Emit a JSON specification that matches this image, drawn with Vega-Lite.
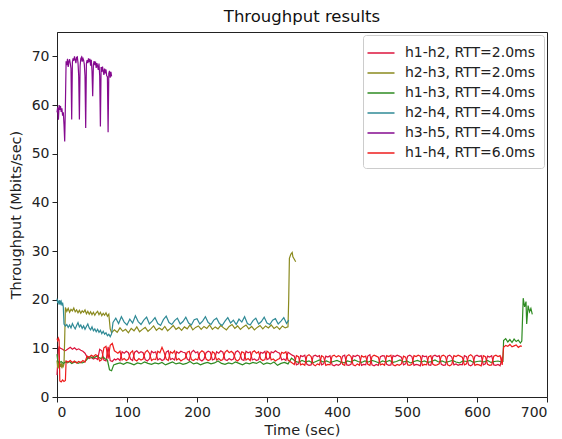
{
"$schema": "https://vega.github.io/schema/vega-lite/v6.json",
"width": 490, "height": 365,
"autosize": {"type": "none"},
"padding": {"left": 57, "top": 32, "right": 15, "bottom": 42},
"background": "white",
"title": {"text": "Throughput results", "fontSize": 16.5, "fontWeight": "normal", "font": "DejaVu Sans", "color": "#111", "offset": 7},
"config": {
  "font": "DejaVu Sans",
  "view": {"stroke": "#222", "strokeWidth": 1},
  "axis": {"labelFont": "DejaVu Sans", "titleFont": "DejaVu Sans", "labelFontSize": 14, "titleFontSize": 14.5, "titleFontWeight": "normal", "labelColor": "#222", "titleColor": "#222", "tickColor": "#222", "domainColor": "#222", "grid": false, "tickSize": 5, "labelPadding": 3},
  "legend": {"labelFont": "DejaVu Sans", "labelFontSize": 14, "labelColor": "#222", "strokeColor": "#cccccc", "fillColor": "rgba(255,255,255,0.8)", "cornerRadius": 3, "padding": 8, "offset": 3, "rowPadding": 3, "symbolSize": 324, "symbolType": "M-1.5,0H1.5", "symbolStrokeWidth": 1.5, "labelOffset": 14, "orient": "top-right"}
},
"datasets": {
"h12": [{"t":0,"v":4.5},{"t":1,"v":7},{"t":2,"v":9.8},{"t":3,"v":10.3},{"t":5,"v":10.0},{"t":8,"v":9.8},{"t":11,"v":9.5},{"t":13,"v":9.6},{"t":16,"v":9.9},{"t":19,"v":10.2},{"t":22,"v":9.8},{"t":25,"v":10.1},{"t":28,"v":9.7},{"t":31,"v":9.9},{"t":34,"v":9.6},{"t":37,"v":9.4},{"t":40,"v":9.0},{"t":43,"v":8.2},{"t":46,"v":7.9},{"t":49,"v":8.1},{"t":52,"v":7.8},{"t":55,"v":8.0},{"t":58,"v":7.7},{"t":61,"v":9.8},{"t":64,"v":9.5},{"t":67,"v":7.6},{"t":70,"v":7.4},{"t":73,"v":10.3},{"t":76,"v":7.5},{"t":79,"v":7.3},{"t":82,"v":7.8},
{"t":84,"v":7.6},{"t":87,"v":7.9},{"t":90,"v":7.5},{"t":93,"v":9.3},{"t":96,"v":9.0},{"t":99,"v":9.4},{"t":102,"v":9.1},{"t":105,"v":7.8},{"t":108,"v":7.5},{"t":111,"v":9.2},{"t":114,"v":9.5},{"t":117,"v":9.0},{"t":120,"v":9.3},{"t":123,"v":9.1},{"t":126,"v":7.7},{"t":129,"v":7.4},{"t":132,"v":7.8},{"t":135,"v":9.4},{"t":138,"v":9.1},{"t":141,"v":9.3},{"t":144,"v":7.6},{"t":147,"v":7.9},{"t":150,"v":7.5},{"t":153,"v":7.7},{"t":156,"v":9.2},{"t":159,"v":9.5},{"t":162,"v":7.7},{"t":165,"v":7.9},{"t":168,"v":7.6},{"t":171,"v":9.3},{"t":174,"v":9.0},{"t":177,"v":9.4},{"t":180,"v":9.2},{"t":183,"v":9.1},{"t":186,"v":7.8},{"t":189,"v":7.5},{"t":192,"v":9.2},{"t":195,"v":9.6},{"t":198,"v":9.1},{"t":201,"v":9.3},{"t":204,"v":7.7},{"t":207,"v":7.4},{"t":210,"v":7.8},{"t":213,"v":9.1},{"t":216,"v":9.4},{"t":219,"v":9.2},{"t":222,"v":7.6},{"t":225,"v":7.8},{"t":228,"v":9.3},{"t":231,"v":9.0},{"t":234,"v":9.5},{"t":237,"v":9.2},{"t":240,"v":7.7},{"t":243,"v":7.5},{"t":246,"v":7.9},{"t":249,"v":7.6},{"t":252,"v":7.8},{"t":255,"v":9.2},{"t":258,"v":9.5},{"t":261,"v":9.1},{"t":264,"v":7.7},{"t":267,"v":7.5},{"t":270,"v":9.4},{"t":273,"v":9.1},{"t":276,"v":9.3},{"t":279,"v":7.6},{"t":282,"v":7.8},{"t":285,"v":7.5},{"t":288,"v":7.7},{"t":291,"v":9.2},{"t":294,"v":9.0},{"t":297,"v":9.4},{"t":300,"v":7.7},{"t":303,"v":7.9},{"t":306,"v":9.3},{"t":309,"v":9.1},{"t":312,"v":9.5},{"t":315,"v":9.2},{"t":318,"v":9.0},{"t":321,"v":7.6},{"t":324,"v":7.8},{"t":327,"v":7.5},{"t":330,"v":9.2},{"t":333,"v":8.9},{"t":336,"v":8.6},{"t":339,"v":8.4},{"t":342,"v":6.6},{"t":345,"v":6.8},{"t":348,"v":8.5},{"t":351,"v":8.3},{"t":354,"v":8.6},{"t":357,"v":6.7},{"t":360,"v":6.5},{"t":363,"v":6.6},{"t":366,"v":8.4},{"t":369,"v":8.6},{"t":372,"v":8.3},{"t":375,"v":8.5},{"t":378,"v":6.6},{"t":381,"v":6.8},{"t":384,"v":8.4},{"t":387,"v":8.2},{"t":390,"v":8.5},{"t":393,"v":6.6},{"t":396,"v":6.4},{"t":399,"v":6.7},{"t":402,"v":6.5},{"t":405,"v":6.8},{"t":408,"v":8.4},{"t":411,"v":8.6},{"t":414,"v":6.6},{"t":417,"v":6.5},{"t":420,"v":6.7},{"t":423,"v":8.5},{"t":426,"v":8.3},{"t":429,"v":8.6},{"t":432,"v":8.4},{"t":435,"v":6.5},{"t":438,"v":6.7},{"t":441,"v":6.6},{"t":444,"v":8.4},{"t":447,"v":8.7},{"t":450,"v":6.6},{"t":453,"v":6.4},{"t":456,"v":6.7},{"t":459,"v":6.5},{"t":462,"v":8.3},{"t":465,"v":8.5},{"t":468,"v":8.4},{"t":471,"v":6.7},{"t":474,"v":6.5},{"t":477,"v":6.6},{"t":480,"v":8.5},{"t":483,"v":8.3},{"t":486,"v":8.6},{"t":489,"v":8.4},{"t":492,"v":8.2},{"t":495,"v":6.6},{"t":498,"v":6.8},{"t":501,"v":8.4},{"t":504,"v":8.6},{"t":507,"v":8.3},{"t":510,"v":6.5},{"t":513,"v":6.7},{"t":516,"v":6.6},{"t":519,"v":6.4},{"t":522,"v":8.5},{"t":525,"v":8.3},{"t":528,"v":8.4},{"t":531,"v":6.6},{"t":534,"v":6.5},{"t":537,"v":8.4},{"t":540,"v":8.6},{"t":543,"v":8.3},{"t":546,"v":8.5},{"t":549,"v":6.7},{"t":552,"v":6.5},{"t":555,"v":6.6},{"t":558,"v":8.4},{"t":561,"v":8.6},{"t":564,"v":8.2},{"t":567,"v":6.6},{"t":570,"v":6.8},{"t":573,"v":6.5},{"t":576,"v":6.7},{"t":579,"v":6.6},{"t":582,"v":8.5},{"t":585,"v":8.3},{"t":588,"v":6.6},{"t":591,"v":6.4},{"t":594,"v":6.7},{"t":597,"v":8.4},{"t":600,"v":8.6},{"t":603,"v":8.3},{"t":606,"v":8.5},{"t":609,"v":6.6},{"t":612,"v":6.8},{"t":615,"v":8.4},{"t":618,"v":8.2},{"t":621,"v":8.5},{"t":624,"v":6.6},{"t":627,"v":6.5},{"t":630,"v":6.7},{"t":633,"v":6.4},{"t":636,"v":8.3}],
"h23": [{"t":0,"v":7.5},{"t":1,"v":6.0},{"t":2,"v":7.2},{"t":3,"v":5.8},{"t":4,"v":6.8},{"t":5,"v":6.2},{"t":6,"v":7.0},{"t":7,"v":5.9},{"t":8,"v":6.6},{"t":9,"v":6.3},{"t":10,"v":6.8},{"t":11,"v":12.0},{"t":12,"v":18.4},{"t":14,"v":17.6},{"t":16,"v":18.2},{"t":18,"v":17.4},{"t":20,"v":18.0},{"t":22,"v":17.7},{"t":24,"v":18.3},{"t":26,"v":17.5},{"t":28,"v":17.9},{"t":30,"v":17.3},{"t":32,"v":17.8},{"t":34,"v":17.2},{"t":36,"v":17.7},{"t":38,"v":17.4},{"t":40,"v":17.9},{"t":42,"v":17.1},{"t":44,"v":17.6},{"t":46,"v":17.0},{"t":48,"v":17.5},{"t":50,"v":16.9},{"t":52,"v":17.4},{"t":54,"v":16.8},{"t":56,"v":17.3},{"t":58,"v":17.6},{"t":60,"v":16.9},{"t":62,"v":17.4},{"t":64,"v":16.7},{"t":66,"v":17.2},{"t":68,"v":16.8},{"t":70,"v":17.3},{"t":72,"v":16.6},{"t":74,"v":17.0},{"t":76,"v":14.0},{"t":78,"v":13.2},{"t":82,"v":13.8},{"t":86,"v":13.3},{"t":90,"v":14.2},{"t":94,"v":13.5},{"t":98,"v":13.9},{"t":102,"v":13.2},{"t":106,"v":14.1},{"t":110,"v":13.6},{"t":114,"v":14.4},{"t":118,"v":13.4},{"t":122,"v":13.9},{"t":126,"v":14.3},{"t":130,"v":13.5},{"t":134,"v":14.0},{"t":138,"v":14.6},{"t":142,"v":13.7},{"t":146,"v":14.2},{"t":150,"v":13.8},{"t":154,"v":14.5},{"t":158,"v":13.6},{"t":162,"v":14.1},{"t":166,"v":14.7},{"t":170,"v":13.9},{"t":174,"v":14.3},{"t":178,"v":13.7},{"t":182,"v":14.4},{"t":186,"v":14.0},{"t":190,"v":14.8},{"t":194,"v":13.8},{"t":198,"v":14.3},{"t":202,"v":14.6},{"t":206,"v":13.9},{"t":210,"v":14.5},{"t":214,"v":14.1},{"t":218,"v":14.8},{"t":222,"v":13.9},{"t":226,"v":14.4},{"t":230,"v":14.0},{"t":234,"v":14.7},{"t":238,"v":14.2},{"t":242,"v":13.8},{"t":246,"v":14.5},{"t":250,"v":14.9},{"t":254,"v":14.1},{"t":258,"v":14.6},{"t":262,"v":13.9},{"t":266,"v":14.4},{"t":270,"v":14.8},{"t":274,"v":14.0},{"t":278,"v":14.5},{"t":282,"v":13.8},{"t":286,"v":14.3},{"t":290,"v":14.7},{"t":294,"v":14.0},{"t":298,"v":14.6},{"t":302,"v":14.2},{"t":306,"v":14.8},{"t":310,"v":14.1},{"t":314,"v":14.5},{"t":318,"v":13.9},{"t":322,"v":14.6},{"t":326,"v":14.2},{"t":330,"v":14.4},{"t":331,"v":20},{"t":332,"v":28.5},{"t":334,"v":29.3},{"t":336,"v":29.7},{"t":337,"v":28.8},{"t":339,"v":28.3},{"t":341,"v":27.8}],
"h13": [{"t":0,"v":8.8},{"t":1,"v":7.5},{"t":3,"v":7.0},{"t":6,"v":7.3},{"t":9,"v":6.9},{"t":12,"v":7.2},{"t":15,"v":7.0},{"t":18,"v":7.3},{"t":21,"v":6.9},{"t":24,"v":7.1},{"t":27,"v":7.2},{"t":30,"v":6.9},{"t":33,"v":7.1},{"t":36,"v":7.0},{"t":39,"v":7.2},{"t":42,"v":7.6},{"t":45,"v":8.1},{"t":48,"v":8.3},{"t":51,"v":8.0},{"t":54,"v":8.2},{"t":57,"v":8.4},{"t":60,"v":8.1},{"t":63,"v":7.9},{"t":66,"v":8.2},{"t":69,"v":7.8},{"t":72,"v":7.6},{"t":75,"v":5.6},{"t":78,"v":5.4},{"t":81,"v":6.6},{"t":85,"v":6.8},{"t":90,"v":7.0},{"t":95,"v":6.7},{"t":100,"v":7.1},{"t":105,"v":6.9},{"t":110,"v":6.6},{"t":115,"v":7.0},{"t":120,"v":6.8},{"t":125,"v":7.2},{"t":130,"v":6.9},{"t":135,"v":6.7},{"t":140,"v":7.0},{"t":145,"v":6.8},{"t":150,"v":7.1},{"t":155,"v":6.6},{"t":160,"v":6.9},{"t":165,"v":7.2},{"t":170,"v":6.8},{"t":175,"v":7.0},{"t":180,"v":6.7},{"t":185,"v":6.9},{"t":190,"v":7.3},{"t":195,"v":6.8},{"t":200,"v":7.0},{"t":205,"v":6.6},{"t":210,"v":6.9},{"t":215,"v":7.1},{"t":220,"v":6.8},{"t":225,"v":7.0},{"t":230,"v":7.4},{"t":235,"v":6.9},{"t":240,"v":6.7},{"t":245,"v":7.0},{"t":250,"v":6.8},{"t":255,"v":7.2},{"t":260,"v":6.9},{"t":265,"v":6.6},{"t":270,"v":7.0},{"t":275,"v":6.8},{"t":280,"v":7.1},{"t":285,"v":6.9},{"t":290,"v":7.3},{"t":295,"v":6.7},{"t":300,"v":7.0},{"t":305,"v":6.8},{"t":310,"v":7.2},{"t":315,"v":6.5},{"t":320,"v":6.9},{"t":325,"v":7.1},{"t":330,"v":6.8},{"t":335,"v":8.0},{"t":340,"v":7.4},{"t":345,"v":7.1},{"t":350,"v":7.5},{"t":355,"v":7.2},{"t":360,"v":7.4},{"t":365,"v":7.0},{"t":370,"v":7.3},{"t":375,"v":7.6},{"t":380,"v":7.2},{"t":385,"v":7.4},{"t":390,"v":7.1},{"t":395,"v":7.3},{"t":400,"v":7.5},{"t":405,"v":7.2},{"t":410,"v":7.0},{"t":415,"v":7.4},{"t":420,"v":7.2},{"t":425,"v":7.6},{"t":430,"v":7.3},{"t":435,"v":7.1},{"t":440,"v":7.4},{"t":445,"v":7.2},{"t":450,"v":7.5},{"t":455,"v":7.3},{"t":460,"v":7.0},{"t":465,"v":7.4},{"t":470,"v":7.2},{"t":475,"v":7.5},{"t":480,"v":7.1},{"t":485,"v":7.3},{"t":490,"v":7.6},{"t":495,"v":7.2},{"t":500,"v":7.4},{"t":505,"v":7.0},{"t":510,"v":7.3},{"t":515,"v":7.5},{"t":520,"v":7.2},{"t":525,"v":7.4},{"t":530,"v":7.1},{"t":535,"v":7.3},{"t":540,"v":7.6},{"t":545,"v":7.2},{"t":550,"v":7.4},{"t":555,"v":7.1},{"t":560,"v":7.3},{"t":565,"v":7.5},{"t":570,"v":7.2},{"t":575,"v":7.0},{"t":580,"v":7.4},{"t":585,"v":7.3},{"t":590,"v":7.5},{"t":595,"v":7.1},{"t":600,"v":7.3},{"t":605,"v":7.4},{"t":610,"v":7.2},{"t":615,"v":7.5},{"t":620,"v":7.1},{"t":625,"v":7.3},{"t":630,"v":7.4},{"t":635,"v":7.2},{"t":637,"v":7.3},{"t":638,"v":11.6},{"t":641,"v":12.0},{"t":644,"v":11.3},{"t":647,"v":11.8},{"t":650,"v":11.2},{"t":653,"v":11.9},{"t":656,"v":11.4},{"t":659,"v":11.7},{"t":662,"v":11.1},{"t":664,"v":11.5},{"t":666,"v":20.3},{"t":668,"v":18.5},{"t":670,"v":19.6},{"t":671,"v":15.0},{"t":673,"v":18.8},{"t":675,"v":17.5},{"t":677,"v":18.2},{"t":679,"v":17.0}],
"h24": [{"t":0,"v":20.2},{"t":1,"v":19.3},{"t":2,"v":19.8},{"t":3,"v":19.0},{"t":4,"v":19.9},{"t":5,"v":19.2},{"t":6,"v":19.6},{"t":7,"v":18.8},{"t":8,"v":19.4},{"t":9,"v":18.5},{"t":10,"v":15.0},{"t":12,"v":14.6},{"t":14,"v":14.9},{"t":16,"v":14.3},{"t":18,"v":14.8},{"t":20,"v":14.2},{"t":22,"v":15.1},{"t":24,"v":14.5},{"t":26,"v":14.0},{"t":28,"v":14.7},{"t":30,"v":15.3},{"t":32,"v":14.4},{"t":34,"v":14.8},{"t":36,"v":14.1},{"t":38,"v":14.6},{"t":40,"v":13.9},{"t":42,"v":14.5},{"t":44,"v":15.0},{"t":46,"v":14.2},{"t":48,"v":13.8},{"t":50,"v":14.4},{"t":52,"v":13.6},{"t":54,"v":14.0},{"t":56,"v":13.4},{"t":58,"v":13.9},{"t":60,"v":13.3},{"t":62,"v":13.7},{"t":64,"v":13.0},{"t":66,"v":13.5},{"t":68,"v":12.9},{"t":70,"v":13.2},{"t":72,"v":12.6},{"t":74,"v":12.9},{"t":76,"v":12.4},{"t":78,"v":13.0},{"t":80,"v":15.3},{"t":84,"v":16.2},{"t":88,"v":15.1},{"t":92,"v":16.5},{"t":96,"v":15.4},{"t":100,"v":14.8},{"t":104,"v":16.0},{"t":108,"v":15.2},{"t":112,"v":16.7},{"t":116,"v":15.5},{"t":120,"v":14.9},{"t":124,"v":15.8},{"t":128,"v":16.4},{"t":132,"v":15.0},{"t":136,"v":15.6},{"t":140,"v":16.3},{"t":144,"v":15.1},{"t":148,"v":14.7},{"t":152,"v":15.9},{"t":156,"v":16.6},{"t":160,"v":15.3},{"t":164,"v":14.9},{"t":168,"v":15.7},{"t":172,"v":16.2},{"t":176,"v":15.0},{"t":180,"v":15.5},{"t":184,"v":16.4},{"t":188,"v":15.2},{"t":192,"v":14.8},{"t":196,"v":15.9},{"t":200,"v":16.1},{"t":204,"v":15.0},{"t":208,"v":15.6},{"t":212,"v":16.5},{"t":216,"v":15.3},{"t":220,"v":14.9},{"t":224,"v":15.8},{"t":228,"v":16.2},{"t":232,"v":15.1},{"t":236,"v":14.7},{"t":240,"v":15.6},{"t":244,"v":16.3},{"t":248,"v":15.2},{"t":252,"v":15.8},{"t":256,"v":14.9},{"t":260,"v":16.0},{"t":264,"v":15.4},{"t":268,"v":16.5},{"t":272,"v":15.1},{"t":276,"v":14.8},{"t":280,"v":15.7},{"t":284,"v":16.2},{"t":288,"v":15.0},{"t":292,"v":15.5},{"t":296,"v":16.4},{"t":300,"v":15.2},{"t":304,"v":14.9},{"t":308,"v":15.8},{"t":312,"v":16.1},{"t":316,"v":15.0},{"t":320,"v":15.6},{"t":324,"v":16.3},{"t":328,"v":15.1},{"t":331,"v":15.8}],
"h35": [{"t":0,"v":58.5},{"t":1,"v":59.5},{"t":2,"v":57},{"t":3,"v":60},{"t":4,"v":59},{"t":5,"v":59.8},{"t":6,"v":58.6},{"t":7,"v":59.3},{"t":8,"v":57.8},{"t":9,"v":58.5},{"t":10,"v":56},{"t":11,"v":52.5},{"t":12,"v":60},{"t":13,"v":69},{"t":14,"v":68.2},{"t":15,"v":69.5},{"t":16,"v":67.8},{"t":17,"v":68.9},{"t":18,"v":69.4},{"t":19,"v":68.5},{"t":20,"v":67.5},{"t":21,"v":57},{"t":22,"v":68.8},{"t":23,"v":69.6},{"t":24,"v":69.1},{"t":25,"v":70},{"t":26,"v":69.3},{"t":27,"v":68.6},{"t":28,"v":69.8},{"t":29,"v":69.9},{"t":30,"v":68.7},{"t":31,"v":66},{"t":32,"v":57},{"t":33,"v":68},{"t":34,"v":69.5},{"t":35,"v":69.8},{"t":36,"v":68.9},{"t":37,"v":69.6},{"t":38,"v":69.2},{"t":39,"v":68.4},{"t":40,"v":66},{"t":41,"v":55.3},{"t":42,"v":68.5},{"t":43,"v":69.2},{"t":44,"v":68.6},{"t":45,"v":69.6},{"t":46,"v":68.8},{"t":47,"v":69.5},{"t":48,"v":68.1},{"t":49,"v":69.3},{"t":50,"v":67},{"t":51,"v":61.8},{"t":52,"v":68.3},{"t":53,"v":69},{"t":54,"v":68.2},{"t":55,"v":68.9},{"t":56,"v":67.6},{"t":57,"v":68.6},{"t":58,"v":68},{"t":59,"v":67.2},{"t":60,"v":68.5},{"t":61,"v":66},{"t":62,"v":55.6},{"t":63,"v":67.8},{"t":64,"v":66.8},{"t":65,"v":67.9},{"t":66,"v":67},{"t":67,"v":66.2},{"t":68,"v":67.5},{"t":69,"v":66.5},{"t":70,"v":67.3},{"t":71,"v":66},{"t":72,"v":65.8},{"t":73,"v":54.4},{"t":74,"v":66.5},{"t":75,"v":67},{"t":76,"v":65.6},{"t":77,"v":66.8},{"t":78,"v":65.9}],
"h14": [{"t":0,"v":12},{"t":1,"v":11.6},{"t":2,"v":12.1},{"t":3,"v":11.7},{"t":4,"v":3.3},{"t":6,"v":3.1},{"t":8,"v":3.5},{"t":10,"v":3.2},{"t":12,"v":3.4},{"t":13,"v":7.4},{"t":16,"v":7.2},{"t":19,"v":7.5},{"t":22,"v":7.1},{"t":25,"v":7.4},{"t":28,"v":7.0},{"t":31,"v":7.3},{"t":34,"v":7.1},{"t":37,"v":7.5},{"t":40,"v":7.2},{"t":43,"v":8.4},{"t":46,"v":8.2},{"t":49,"v":8.6},{"t":52,"v":8.3},{"t":55,"v":8.7},{"t":58,"v":8.5},{"t":61,"v":7.4},{"t":64,"v":7.7},{"t":67,"v":10.1},{"t":70,"v":10.4},{"t":73,"v":7.9},{"t":76,"v":10.6},{"t":79,"v":11.0},{"t":82,"v":9.5},
{"t":84,"v":9.3},{"t":87,"v":9.0},{"t":90,"v":9.4},{"t":93,"v":7.6},{"t":96,"v":7.9},{"t":99,"v":7.5},{"t":102,"v":7.8},{"t":105,"v":9.1},{"t":108,"v":9.5},{"t":111,"v":7.7},{"t":114,"v":7.4},{"t":117,"v":7.9},{"t":120,"v":7.6},{"t":123,"v":7.8},{"t":126,"v":9.2},{"t":129,"v":9.6},{"t":132,"v":9.0},{"t":135,"v":7.5},{"t":138,"v":7.8},{"t":141,"v":7.7},{"t":144,"v":9.4},{"t":147,"v":9.1},{"t":150,"v":10.2},{"t":153,"v":9.2},{"t":156,"v":7.8},{"t":159,"v":7.5},{"t":162,"v":9.3},{"t":165,"v":9.0},{"t":168,"v":9.5},{"t":171,"v":7.6},{"t":174,"v":7.9},{"t":177,"v":7.4},{"t":180,"v":7.7},{"t":183,"v":7.9},{"t":186,"v":9.2},{"t":189,"v":9.4},{"t":192,"v":7.7},{"t":195,"v":7.5},{"t":198,"v":7.8},{"t":201,"v":7.6},{"t":204,"v":9.1},{"t":207,"v":9.5},{"t":210,"v":9.2},{"t":213,"v":7.8},{"t":216,"v":7.5},{"t":219,"v":7.7},{"t":222,"v":9.3},{"t":225,"v":9.0},{"t":228,"v":7.6},{"t":231,"v":7.9},{"t":234,"v":7.5},{"t":237,"v":7.7},{"t":240,"v":9.2},{"t":243,"v":9.6},{"t":246,"v":9.1},{"t":249,"v":9.4},{"t":252,"v":9.0},{"t":255,"v":7.7},{"t":258,"v":7.4},{"t":261,"v":7.8},{"t":264,"v":9.3},{"t":267,"v":9.1},{"t":270,"v":7.6},{"t":273,"v":7.9},{"t":276,"v":7.5},{"t":279,"v":9.2},{"t":282,"v":9.5},{"t":285,"v":9.0},{"t":288,"v":9.3},{"t":291,"v":7.8},{"t":294,"v":7.5},{"t":297,"v":7.7},{"t":300,"v":9.4},{"t":303,"v":9.1},{"t":306,"v":7.6},{"t":309,"v":7.8},{"t":312,"v":7.4},{"t":315,"v":7.7},{"t":318,"v":7.9},{"t":321,"v":9.2},{"t":324,"v":9.0},{"t":327,"v":9.3},{"t":330,"v":7.6},{"t":333,"v":7.3},{"t":336,"v":7.0},{"t":339,"v":6.7},{"t":342,"v":8.5},{"t":345,"v":8.3},{"t":348,"v":6.6},{"t":351,"v":6.8},{"t":354,"v":6.5},{"t":357,"v":8.4},{"t":360,"v":8.7},{"t":363,"v":8.3},{"t":366,"v":6.7},{"t":369,"v":6.4},{"t":372,"v":6.8},{"t":375,"v":6.6},{"t":378,"v":8.5},{"t":381,"v":8.2},{"t":384,"v":6.5},{"t":387,"v":6.7},{"t":390,"v":6.6},{"t":393,"v":8.4},{"t":396,"v":8.6},{"t":399,"v":8.2},{"t":402,"v":8.5},{"t":405,"v":8.3},{"t":408,"v":6.7},{"t":411,"v":6.5},{"t":414,"v":8.4},{"t":417,"v":8.7},{"t":420,"v":8.3},{"t":423,"v":6.6},{"t":426,"v":6.4},{"t":429,"v":6.8},{"t":432,"v":6.5},{"t":435,"v":8.5},{"t":438,"v":8.2},{"t":441,"v":8.4},{"t":444,"v":6.7},{"t":447,"v":6.5},{"t":450,"v":8.3},{"t":453,"v":8.6},{"t":456,"v":8.4},{"t":459,"v":8.2},{"t":462,"v":6.6},{"t":465,"v":6.8},{"t":468,"v":6.5},{"t":471,"v":8.5},{"t":474,"v":8.3},{"t":477,"v":8.6},{"t":480,"v":6.6},{"t":483,"v":6.4},{"t":486,"v":6.7},{"t":489,"v":6.5},{"t":492,"v":6.8},{"t":495,"v":8.4},{"t":498,"v":8.2},{"t":501,"v":6.6},{"t":504,"v":6.5},{"t":507,"v":6.7},{"t":510,"v":8.5},{"t":513,"v":8.3},{"t":516,"v":8.6},{"t":519,"v":8.4},{"t":522,"v":6.5},{"t":525,"v":6.7},{"t":528,"v":6.6},{"t":531,"v":8.3},{"t":534,"v":8.5},{"t":537,"v":6.7},{"t":540,"v":6.5},{"t":543,"v":6.6},{"t":546,"v":6.8},{"t":549,"v":8.4},{"t":552,"v":8.6},{"t":555,"v":8.3},{"t":558,"v":6.6},{"t":561,"v":6.4},{"t":564,"v":6.7},{"t":567,"v":8.5},{"t":570,"v":8.3},{"t":573,"v":8.6},{"t":576,"v":8.4},{"t":579,"v":8.2},{"t":582,"v":6.6},{"t":585,"v":6.8},{"t":588,"v":8.4},{"t":591,"v":8.7},{"t":594,"v":8.3},{"t":597,"v":6.5},{"t":600,"v":6.7},{"t":603,"v":6.6},{"t":606,"v":6.4},{"t":609,"v":8.5},{"t":612,"v":8.3},{"t":615,"v":6.7},{"t":618,"v":6.5},{"t":621,"v":6.6},{"t":624,"v":8.4},{"t":627,"v":8.6},{"t":630,"v":8.3},{"t":633,"v":8.5},{"t":636,"v":6.6},{"t":638,"v":10.2},{"t":641,"v":10.6},{"t":644,"v":10.4},{"t":647,"v":10.8},{"t":650,"v":10.3},{"t":653,"v":10.5},{"t":656,"v":10.7},{"t":659,"v":10.2},{"t":662,"v":10.5},{"t":664,"v":10.4}]
},
"encoding": {
  "x": {"field": "t", "type": "quantitative", "title": "Time (sec)", "scale": {"domain": [0, 700], "nice": false}, "axis": {"values": [0,100,200,300,400,500,600,700], "titlePadding": 4}},
  "y": {"field": "v", "type": "quantitative", "title": "Throughput (Mbits/sec)", "scale": {"domain": [0, 75], "nice": false}, "axis": {"values": [0,10,20,30,40,50,60,70], "titlePadding": 8}}
},
"layer": [
  {"data": {"name": "h12"}, "mark": {"type": "line", "strokeWidth": 1.2}, "encoding": {"color": {"datum": "h1-h2, RTT=2.0ms", "scale": {"domain": ["h1-h2, RTT=2.0ms", "h2-h3, RTT=2.0ms", "h1-h3, RTT=4.0ms", "h2-h4, RTT=4.0ms", "h3-h5, RTT=4.0ms", "h1-h4, RTT=6.0ms"], "range": ["#dc143c", "#8a8a1e", "#2e8b22", "#2f8a96", "#850a8f", "#ee1c1c"]}, "legend": {"title": null}}}},
  {"data": {"name": "h23"}, "mark": {"type": "line", "strokeWidth": 1.2}, "encoding": {"color": {"datum": "h2-h3, RTT=2.0ms"}}},
  {"data": {"name": "h13"}, "mark": {"type": "line", "strokeWidth": 1.2}, "encoding": {"color": {"datum": "h1-h3, RTT=4.0ms"}}},
  {"data": {"name": "h24"}, "mark": {"type": "line", "strokeWidth": 1.2}, "encoding": {"color": {"datum": "h2-h4, RTT=4.0ms"}}},
  {"data": {"name": "h35"}, "mark": {"type": "line", "strokeWidth": 1.2}, "encoding": {"color": {"datum": "h3-h5, RTT=4.0ms"}}},
  {"data": {"name": "h14"}, "mark": {"type": "line", "strokeWidth": 1.2}, "encoding": {"color": {"datum": "h1-h4, RTT=6.0ms"}}}
]
}
